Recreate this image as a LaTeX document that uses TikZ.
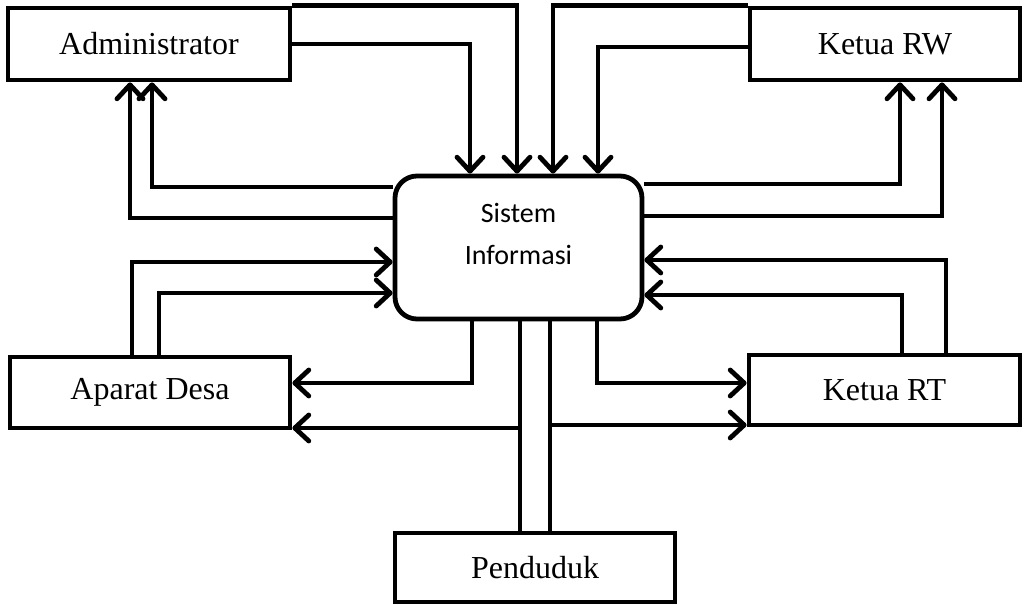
\documentclass[tikz,border=0pt]{standalone}
\usepackage{fontspec}
\setmainfont{Liberation Serif}
\newfontfamily\sifont{Carlito}
\usetikzlibrary{arrows.meta}
\begin{document}
\begin{tikzpicture}[x=0.5pt, y=-0.5pt, line width=2.4pt,
  box/.style={draw, rectangle, inner sep=0pt, minimum height=36pt, font=\fontsize{16}{19}\selectfont},
  arr/.style={-{Straight Barb[length=7pt,width=13pt,round]}}]
\useasboundingbox (0,0) rectangle (1024,605);
\node[box, minimum width=141pt] (adm) at (149,44){Administrator};
\node[box, minimum width=135pt] (rw) at (885,44){Ketua RW};
\node[box, rounded corners=11pt, minimum width=123.5pt, minimum height=71.5pt, font=\sifont\fontsize{14}{21}\selectfont] (si) at (518.5,247.5){\raisebox{2.5pt}[0pt][0pt]{\begin{tabular}{@{}c@{}}Sistem\\Informasi\end{tabular}}};
\node[box, minimum width=140pt, minimum height=35.5pt] (apd) at (150,392.5){Aparat Desa};
\node[box, minimum width=135.5pt, minimum height=35pt] (rt) at (884.5,390){Ketua RT};
\node[box, minimum width=140pt, minimum height=34.5pt] (pdd) at (535,567.5){Penduduk};
\coordinate (jl) at (520,428);
\coordinate (jr) at (550,425);
\draw[arr](adm.east) -| (si.north -| 470,0);
\draw[arr](adm.north east) -| (si.north -| 517,0);
\draw[arr](rw.north west) -| (si.north -| 553,0);
\draw[arr](rw.west |- 0,47) -| (si.north -| 598,0);
\draw[arr](si.east |- 0,184) -| (rw.south -| 900,0);
\draw[arr](si.east |- 0,216) -| (rw.south -| 942,0);
\draw[arr](si.west |- 0,187) -| (adm.south -| 152,0);
\draw[arr](si.west |- 0,218) -| (adm.south -| 130,0);
\draw[arr](apd.north -| 132,0) |- (si.west |- 0,262);
\draw[arr](apd.north -| 159,0) |- (si.west |- 0,293);
\draw[arr](si.south -| 472,0) |- (apd.east |- 0,383);
\draw[](si.south -| jl) -- (pdd.north -| jl);
\draw[](si.south -| jr) -- (pdd.north -| jr);
\draw[arr](jl) -- (apd.east |- jl);
\draw[arr](jr) -- (rt.west |- jr);
\draw[arr](si.south -| 597,0) |- (rt.west |- 0,383);
\draw[arr](rt.north -| 902,0) |- (si.east |- 0,295);
\draw[arr](rt.north -| 946,0) |- (si.east |- 0,260);
\end{tikzpicture}
\end{document}
